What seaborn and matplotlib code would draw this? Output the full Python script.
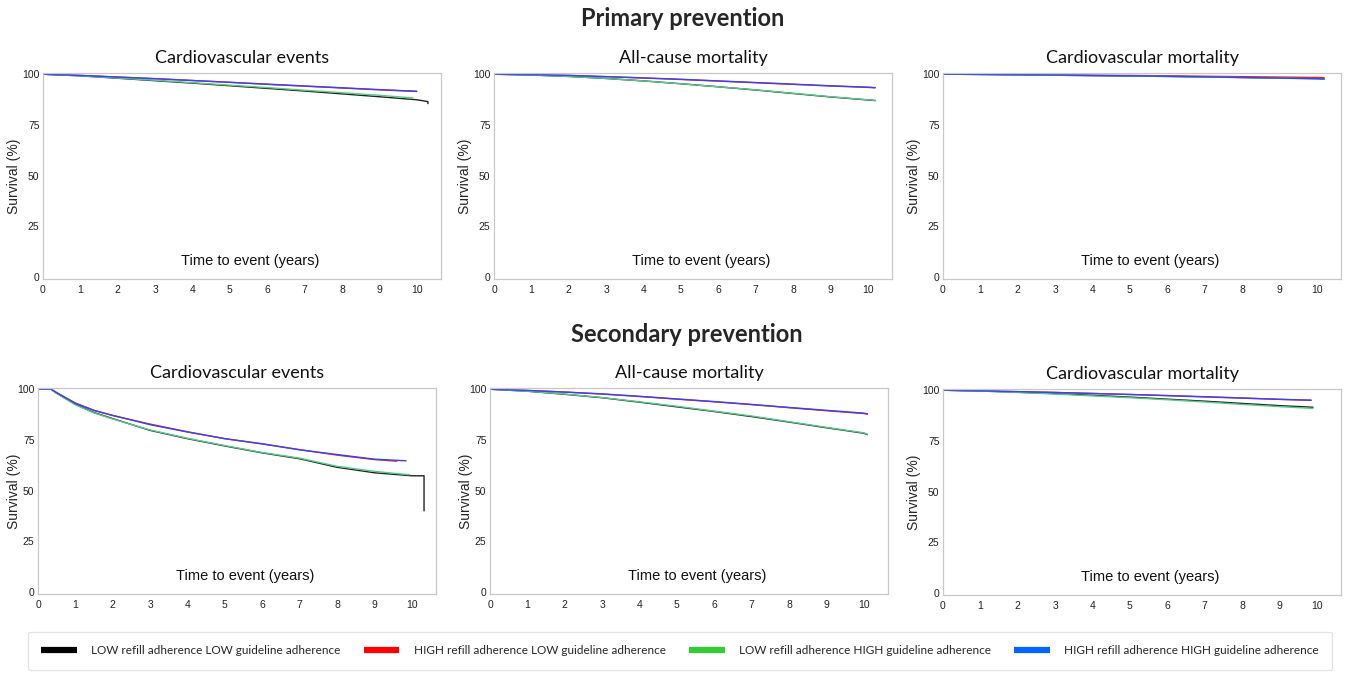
import numpy as np
import pandas as pd
import seaborn as sns
import matplotlib.pyplot as plt
from matplotlib.lines import Line2D
from matplotlib.ticker import MultipleLocator

sns.set_style("white")
plt.rcParams["font.family"] = ["Liberation Sans", "DejaVu Sans"]

groups = [
    "LOW refill adherence LOW guideline adherence",
    "HIGH refill adherence LOW guideline adherence",
    "LOW refill adherence HIGH guideline adherence",
    "HIGH refill adherence HIGH guideline adherence",
]
colors = ["#000000", "#ff0000", "#33cc33", "#0066ff"]
curve_colors = ["#222222", "#ee2222", "#55cc88", "#3344ff"]

years = [0, 1, 2, 3, 4, 5, 6, 7, 8, 9, 10]

# order of series in every panel: LOW/LOW, HIGH/LOW, LOW/HIGH, HIGH/HIGH

# Primary prevention - cardiovascular events
p_cve_t = [years + [10.3, 10.3], years, years[:10] + [9.9], years]
p_cve_s = [
    [100, 99.2, 98.0, 96.8, 95.6, 94.3, 93.0, 91.7, 90.3, 88.9, 87.4, 86.5, 85.5],
    [100, 99.4, 98.6, 97.8, 96.9, 96.0, 95.0, 94.1, 93.2, 92.3, 91.5],
    [100, 99.2, 98.1, 97.0, 95.8, 94.6, 93.4, 92.1, 90.9, 89.6, 88.3],
    [100, 99.4, 98.6, 97.8, 96.9, 96.0, 95.1, 94.2, 93.3, 92.4, 91.6],
]

# Primary prevention - all-cause mortality
p_acm_t = [years + [10.2]] * 4
p_acm_s = [
    [100, 99.6, 98.9, 97.9, 96.7, 95.3, 93.8, 92.2, 90.5, 88.8, 87.3, 87.0],
    [100, 99.8, 99.4, 98.8, 98.1, 97.4, 96.6, 95.8, 95.0, 94.2, 93.5, 93.3],
    [100, 99.6, 98.9, 97.9, 96.7, 95.3, 93.8, 92.3, 90.6, 88.9, 87.4, 87.1],
    [100, 99.8, 99.4, 98.8, 98.2, 97.5, 96.7, 95.9, 95.1, 94.3, 93.6, 93.4],
]

# Primary prevention - cardiovascular mortality
p_cvm_t = [years + [10.2]] * 4
p_cvm_s = [
    [100, 99.9, 99.7, 99.5, 99.3, 99.1, 98.9, 98.7, 98.4, 98.1, 97.9, 97.8],
    [100, 99.9, 99.8, 99.7, 99.5, 99.4, 99.2, 99.0, 98.8, 98.6, 98.4, 98.3],
    [100, 99.9, 99.7, 99.5, 99.3, 99.1, 98.9, 98.6, 98.3, 98.0, 97.7, 97.6],
    [100, 99.9, 99.8, 99.6, 99.4, 99.2, 99.0, 98.7, 98.4, 98.1, 97.8, 97.6],
]

# Secondary prevention - cardiovascular events
s_t = [0, 0.35, 0.5, 1, 1.5, 2, 3, 4, 5, 6, 7, 8, 9]
s_cve_t = [s_t + [10, 10.33, 10.33], s_t + [9.6], s_t + [9.95], s_t + [9.85]]
s_cve_s = [
    [100, 100, 98.0, 92.5, 88.5, 85.5, 79.7, 75.6, 72.0, 68.6, 65.7, 61.5, 58.8, 57.3, 57.3, 40.0],
    [100, 100, 98.3, 93.2, 89.6, 87.0, 82.8, 79.0, 75.6, 73.0, 70.2, 67.5, 65.3, 64.5],
    [100, 100, 98.0, 92.3, 88.3, 85.3, 79.9, 75.8, 72.2, 68.8, 66.0, 62.0, 59.5, 57.8],
    [100, 100, 98.3, 93.0, 89.5, 87.1, 82.5, 78.9, 75.6, 73.1, 70.1, 67.8, 65.5, 64.7],
]

# Secondary prevention - all-cause mortality
s_acm_t = [years + [10.1]] * 4
s_acm_s = [
    [100, 99.0, 97.5, 95.8, 93.6, 91.3, 89.0, 86.5, 83.8, 81.0, 78.3, 77.6],
    [100, 99.4, 98.6, 97.6, 96.4, 95.1, 93.8, 92.4, 90.9, 89.4, 88.0, 87.7],
    [100, 99.0, 97.6, 95.9, 93.8, 91.6, 89.2, 86.8, 84.0, 81.2, 78.5, 77.8],
    [100, 99.4, 98.6, 97.7, 96.5, 95.2, 93.9, 92.5, 91.0, 89.6, 88.2, 87.9],
]

# Secondary prevention - cardiovascular mortality
s_cvm_t = [years[:10] + [9.9], years[:10] + [9.85], years[:10] + [9.9], years[:10] + [9.85]]
s_cvm_s = [
    [100, 99.6, 99.0, 98.3, 97.5, 96.6, 95.6, 94.6, 93.5, 92.4, 91.6],
    [100, 99.7, 99.3, 98.9, 98.4, 97.9, 97.4, 96.8, 96.2, 95.5, 95.0],
    [100, 99.6, 98.9, 98.1, 97.2, 96.3, 95.3, 94.2, 93.0, 91.9, 91.0],
    [100, 99.7, 99.3, 98.9, 98.4, 97.9, 97.3, 96.7, 96.1, 95.5, 95.1],
]

panels = [
    ("Cardiovascular events", p_cve_t, p_cve_s),
    ("All-cause mortality", p_acm_t, p_acm_s),
    ("Cardiovascular mortality", p_cvm_t, p_cvm_s),
    ("Cardiovascular events", s_cve_t, s_cve_s),
    ("All-cause mortality", s_acm_t, s_acm_s),
    ("Cardiovascular mortality", s_cvm_t, s_cvm_s),
]

W, H = 1347, 674
fig = plt.figure(figsize=(W / 100, H / 100), dpi=100)

# axes boxes in pixels: left, top, ylabel offset
boxes = [(43, 73, 22), (494, 73, 22), (943, 73, 22),
         (38, 388, 17), (490, 388, 17), (943, 389, 22)]
bw, bh = 398, 206

for (title, ts, ss), (lx, ty, lab_off) in zip(panels, boxes):
    ax = fig.add_axes([lx / W, (H - ty - bh) / H, bw / W, bh / H])
    rows = []
    for g, t, s in zip(groups, ts, ss):
        for tt, vv in zip(t, s):
            rows.append({"t": tt, "s": vv, "group": g})
    df = pd.DataFrame(rows)
    sns.lineplot(data=df, x="t", y="s", hue="group", hue_order=groups,
                 palette=curve_colors, estimator=None, sort=False,
                 linewidth=1.0, legend=False, ax=ax)
    ax.set_xlim(0, 10.65)
    ax.set_ylim(-1, 100.6)
    ax.set_xticks(range(0, 11))
    ax.set_yticks([0, 25, 50, 75, 100])
    ax.xaxis.set_minor_locator(MultipleLocator(1 / 3))
    ax.yaxis.set_minor_locator(MultipleLocator(5))
    ax.tick_params(axis="both", which="major", labelsize=7.5, colors="#999999",
                   labelcolor="#222222", length=3, width=0.8, direction="out", pad=1)
    ax.tick_params(axis="y", which="major", length=2, pad=0.5)
    ax.tick_params(axis="both", which="minor", colors="#aaaaaa", length=2, width=0.6)
    for sp in ax.spines.values():
        sp.set_color("#c8c8c8")
        sp.set_linewidth(0.9)
    ax.set_xlabel("")
    ax.set_ylabel("Survival (%)", fontsize=10)
    ax.yaxis.set_label_coords(-lab_off / bw, 0.5)
    ax.text(0.52, 0.085, "Time to event (years)", transform=ax.transAxes,
            ha="center", va="center", fontsize=10.5, color="#111111")
    ax.set_title(title, fontsize=13, family=["Lato", "DejaVu Sans"],
                 color="#111111", pad=7)

fig.text(683 / W, 1 - 18 / H, "Primary prevention", ha="center", va="center",
         fontsize=17, fontweight="bold", family=["Lato", "DejaVu Sans"])
fig.text(687 / W, 1 - 334 / H, "Secondary prevention", ha="center", va="center",
         fontsize=17, fontweight="bold", family=["Lato", "DejaVu Sans"])

handles = [Line2D([0], [0], color=c, linewidth=4.5, solid_capstyle="butt")
           for c in colors]
leg = fig.legend(handles, groups, loc="center", bbox_to_anchor=(680 / W, 1 - 651 / H),
                 ncol=4, frameon=True, fancybox=True, handlelength=3.0,
                 columnspacing=2.0, borderpad=1.15, handletextpad=1.2,
                 borderaxespad=0,
                 prop={"family": ["Lato", "DejaVu Sans"], "size": 8.5})
leg.get_frame().set_edgecolor("#dddddd")
leg.get_frame().set_linewidth(0.9)

fig.savefig("out.png", dpi=100)
